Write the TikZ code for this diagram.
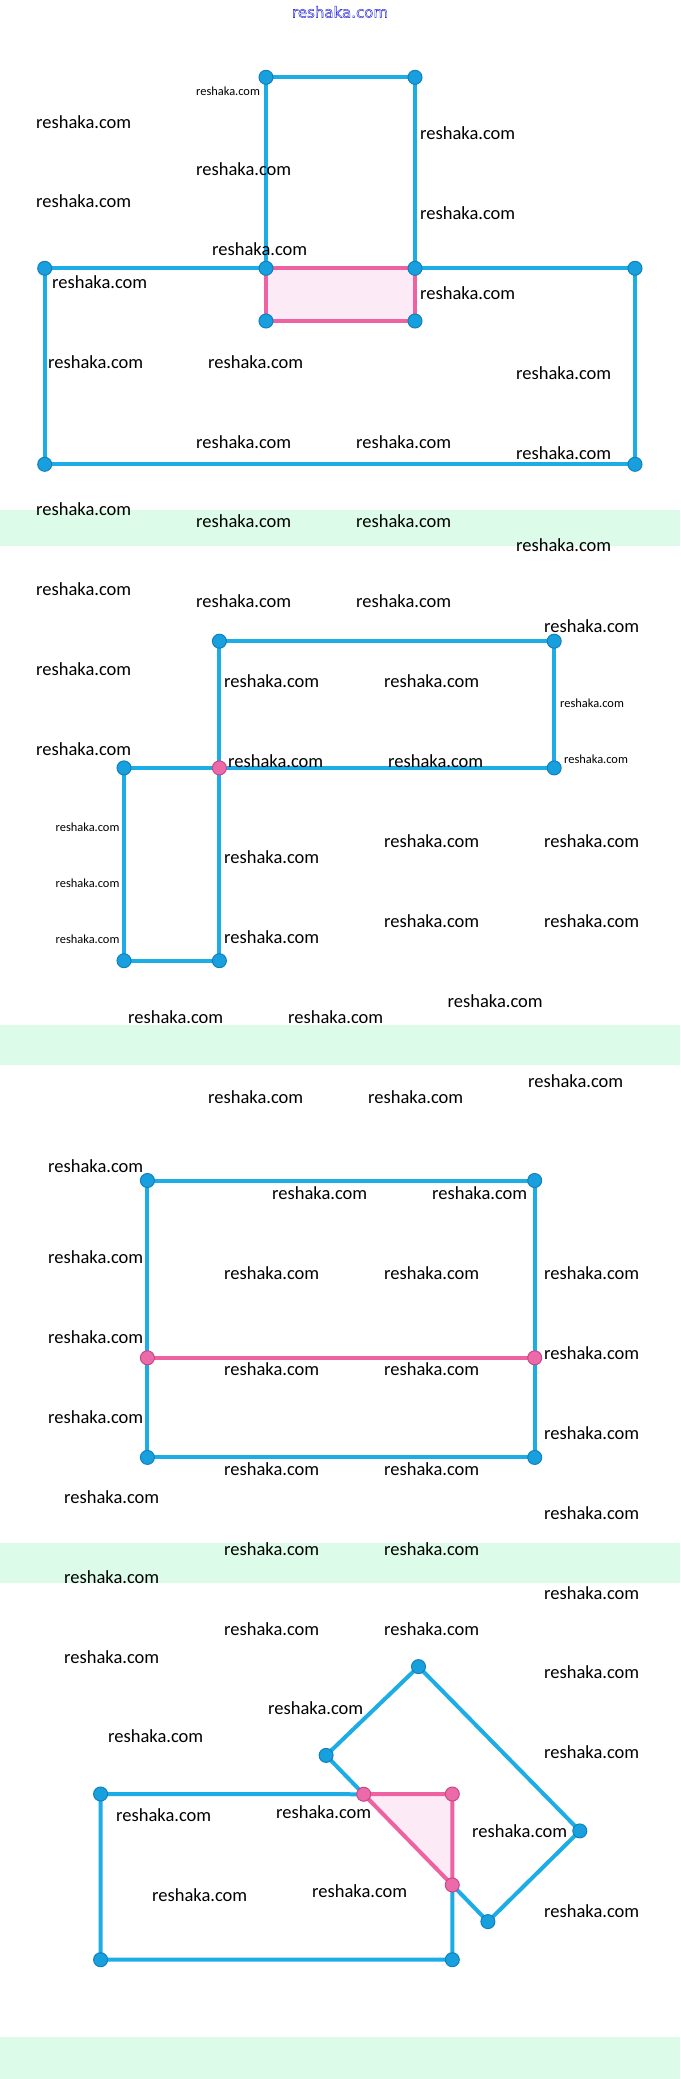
\documentclass[tikz,border=0pt]{standalone}
\usepackage{fontspec}
\setmainfont{Carlito}
\newfontfamily\headfont{DejaVu Sans}

\begin{document}
\begin{tikzpicture}[x=1pt, y=-1pt,
    blueline/.style={line width=4pt, lineblue, line cap=round, line join=round},
    pinkline/.style={line width=4pt, linepink, line cap=round, line join=round},
    bluedot/.style={circle, fill=dotblue, draw=rimblue, line width=1pt, inner sep=0pt, minimum size=14pt},
    pinkdot/.style={circle, fill=dotpink, draw=rimpink, line width=1pt, inner sep=0pt, minimum size=14pt},
    wm/.style={anchor=west, inner sep=0pt, font=\fontsize{18.5}{22}\selectfont},
    wmsmall/.style={anchor=west, inner sep=0pt, font=\fontsize{12.4}{15}\selectfont}]
  \definecolor{lineblue}{RGB}{28,172,230}
  \definecolor{dotblue}{RGB}{24,160,222}
  \definecolor{rimblue}{RGB}{18,128,190}
  \definecolor{linepink}{RGB}{238,98,162}
  \definecolor{dotpink}{RGB}{236,106,170}
  \definecolor{rimpink}{RGB}{200,72,132}
  \definecolor{pinkfill}{RGB}{252,234,247}
  \definecolor{mint}{RGB}{220,251,232}
  \definecolor{headblue}{RGB}{40,40,220}
  \useasboundingbox (0,0) rectangle (680,2079);
  \fill[white] (0,0) rectangle (680,2079);

  % separating bands
  \foreach \ya/\yb in {510/546, 1025/1065, 1543/1583, 2037/2079}
    \fill[mint] (0,\ya) rectangle (680,\yb);

  % header
  \node[font=\headfont\fontsize{15}{18}\selectfont, text=headblue, inner sep=0pt] (head) at (340,12)
    {\special{pdf:literal direct 1 Tr 0.45 w}reshaka.com\special{pdf:literal direct 0 Tr}};

  % figure 1: cross of two rectangles
  \coordinate (t1) at (266,77.3);
  \coordinate (t2) at (415,77.3);
  \coordinate (m1) at (44.7,268.3);
  \coordinate (m2) at (266,268.3);
  \coordinate (m3) at (415,268.3);
  \coordinate (m4) at (635,268.3);
  \coordinate (p1) at (266,321);
  \coordinate (p2) at (415,321);
  \coordinate (b1) at (44.7,464.3);
  \coordinate (b2) at (635,464.3);
  \fill[pinkfill] (m2) rectangle (p2);
  \draw[blueline] (m2) -- (t1) -- (t2) -- (m3) -- (m4) -- (b2) -- (b1) -- (m1) -- (m2);
  \draw[pinkline] (m2) -- (m3) -- (p2) -- (p1) -- cycle;
  \foreach \c in {t1,t2,m1,m2,m3,m4,p1,p2,b1,b2}
    \node[bluedot] (dot-\c) at (\c) {};

  % figure 2: two rectangles sharing a corner
  \coordinate (u1) at (219.4,641.2);
  \coordinate (u2) at (554.2,641.2);
  \coordinate (v1) at (124,767.9);
  \coordinate (v2) at (219.4,767.9);
  \coordinate (v3) at (554.2,767.9);
  \coordinate (w1) at (124,960.7);
  \coordinate (w2) at (219.4,960.7);
  \draw[blueline] (v2) -- (u1) -- (u2) -- (v3) -- (v1) -- (w1) -- (w2) -- (v2);
  \foreach \c in {u1,u2,v1,v3,w1,w2}
    \node[bluedot] (dot-\c) at (\c) {};
  \node[pinkdot] (dot-v2) at (v2) {};

  % figure 3: rectangle with a cut
  \coordinate (r1) at (147.4,1180.5);
  \coordinate (r2) at (534.7,1180.5);
  \coordinate (r3) at (534.7,1457.4);
  \coordinate (r4) at (147.4,1457.4);
  \coordinate (s1) at (147.4,1357.8);
  \coordinate (s2) at (534.7,1357.8);
  \draw[blueline] (r1) -- (r2) -- (r3) -- (r4) -- cycle;
  \draw[pinkline] (s1) -- (s2);
  \foreach \c in {r1,r2,r3,r4}
    \node[bluedot] (dot-\c) at (\c) {};
  \foreach \c in {s1,s2}
    \node[pinkdot] (dot-\c) at (\c) {};

  % figure 4: rectangle and tilted rectangle
  \coordinate (q1) at (100.6,1794);
  \coordinate (q2) at (452.3,1794);
  \coordinate (q3) at (452.3,1959.7);
  \coordinate (q4) at (100.6,1959.7);
  \coordinate (k1) at (418.5,1666.6);
  \coordinate (k2) at (326.1,1755.4);
  \coordinate (k3) at (579.8,1830.9);
  \coordinate (k4) at (487.9,1921.6);
  \coordinate (e1) at (intersection of k2--k4 and q1--q2);
  \coordinate (e2) at (intersection of k2--k4 and q2--q3);
  \fill[pinkfill] (e1) -- (q2) -- (e2) -- cycle;
  \draw[blueline] (e1) -- (q1) -- (q4) -- (q3) -- (e2);
  \draw[blueline] (e1) -- (k2) -- (k1) -- (k3) -- (k4) -- (e2);
  \draw[pinkline] (e1) -- (q2) -- (e2) -- cycle;
  \foreach \c in {q1,q3,q4,k1,k2,k3,k4}
    \node[bluedot] (dot-\c) at (\c) {};
  \foreach \c in {e1,q2,e2}
    \node[pinkdot] (dot-\c) at (\c) {};

  % watermarks
  \foreach \x/\y [count=\i] in {36/121.7, 420/133, 196/169, 36/201, 420/213, 212/249,
      52/282, 420/293, 48/362, 208/362, 516/373, 196/442, 356/442, 516/453, 36/509,
      196/521, 356/521, 516/545, 36/589.5, 196/601.6, 356/601.6, 544/625.7, 36/669.4,
      224/681.5, 384/681.5, 36/749.3, 228/761, 388/761, 384/841.6, 544/841.6, 224/857.4,
      384/921.5, 544/921.5, 224/937.3, 447.5/1001.4, 128/1017, 288/1017,
      528/1081.3, 208/1097.5, 368/1097.5, 48/1165.7, 272/1193.2, 432/1193.2, 48/1257.6,
      224/1273.5, 384/1273.5, 544/1273.5, 48/1336.8, 544/1353.4, 224/1369.5, 384/1369.5,
      48/1417, 544/1433.3, 224/1469.4, 384/1469.4, 64/1497.3, 544/1513.5, 224/1549,
      384/1549, 64/1577, 544/1593, 224/1629, 384/1629, 64/1656.7, 544/1672.6,
      268/1708.3, 108/1736.2, 544/1752, 116/1815.6, 276/1811.7, 472/1831.5, 152/1895,
      312/1891, 544/1911}
    \node[wm] (wm-\i) at (\x,\y) {reshaka.com};
  \foreach \x/\y [count=\i] in {196/91, 560/703.2, 564/759, 55.5/827, 55.5/883, 55.5/939}
    \node[wmsmall] (wms-\i) at (\x,\y) {reshaka.com};
\end{tikzpicture}
\end{document}
